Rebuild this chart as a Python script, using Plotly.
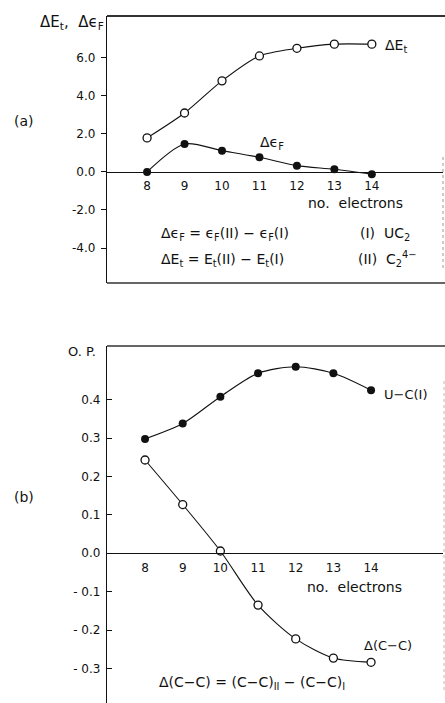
import plotly.graph_objects as go

W, H = 445, 703

# ---- data ----
electrons = [8, 9, 10, 11, 12, 13, 14]
delta_Et = [1.79, 3.10, 4.79, 6.10, 6.50, 6.72, 6.72]
delta_eF = [0.0, 1.47, 1.12, 0.77, 0.33, 0.14, -0.12]
op_UC = [0.298, 0.338, 0.408, 0.469, 0.486, 0.469, 0.425]
op_dCC = [0.243, 0.127, 0.006, -0.135, -0.223, -0.273, -0.284]

x_ticks = [8, 9, 10, 11, 12, 13, 14]
x_tick_text = ["8", "9", "10", "11", "12", "13", "14"]
ya_ticks = [-4, -2, 0, 2, 4, 6]
ya_tick_text = ["-4.0", "-2.0", "0.0", "2.0", "4.0", "6.0"]
yb_ticks = [-0.3, -0.2, -0.1, 0.0, 0.1, 0.2, 0.3, 0.4]
yb_tick_text = ["- 0.3", "- 0.2", "- 0.1", "0.0", "0.1", "0.2", "0.3", "0.4"]

# ---- layout geometry ----
def px(x):
    return x / W

def py(y):
    return 1 - y / H

XDOM = [px(107), px(443)]
YA_DOM = [py(283), py(16)]
YB_DOM = [0.0, py(346)]
XA_RANGE = [6.93, 15.90]
XB_RANGE = [6.99, 15.91]
YA_RANGE = [-5.84, 8.2]
YB_RANGE = [-0.39, 0.54]

def zero_pos(dom, rng):
    f = (0 - rng[0]) / (rng[1] - rng[0])
    return dom[0] + f * (dom[1] - dom[0])

FAMILY = "DejaVu Sans, Liberation Sans, sans-serif"
FONT = dict(family=FAMILY, size=12, color="#111")
LINE = "#111"

fig = go.Figure()

open_marker = dict(symbol="circle", size=8, color="white", line=dict(width=1.3, color=LINE))
filled_marker = dict(symbol="circle", size=8, color=LINE)
curve = dict(color=LINE, width=1.1, shape="spline", smoothing=0.8)

fig.add_trace(go.Scatter(x=electrons, y=delta_Et, mode="lines+markers", line=curve,
                         marker=open_marker, xaxis="x", yaxis="y", showlegend=False))
fig.add_trace(go.Scatter(x=electrons, y=delta_eF, mode="lines+markers", line=curve,
                         marker=filled_marker, xaxis="x", yaxis="y", showlegend=False))
fig.add_trace(go.Scatter(x=electrons, y=op_UC, mode="lines+markers", line=curve,
                         marker=filled_marker, xaxis="x2", yaxis="y2", showlegend=False))
fig.add_trace(go.Scatter(x=electrons, y=op_dCC, mode="lines+markers", line=curve,
                         marker=open_marker, xaxis="x2", yaxis="y2", showlegend=False))

common_x = dict(tickmode="array", tickvals=x_ticks, ticktext=x_tick_text, ticks="",
                showgrid=False, zeroline=False, showline=True, linecolor=LINE, linewidth=1.3,
                tickfont=FONT, anchor="free", ticklabelstandoff=3)
common_y = dict(tickmode="array", ticklen=5, tickcolor=LINE, tickwidth=1.2,
                showgrid=False, zeroline=False, showline=True, linecolor=LINE, linewidth=1.3,
                tickfont=FONT, ticklabelstandoff=3)

fig.update_layout(
    width=W, height=H, margin=dict(l=0, r=0, t=0, b=0),
    paper_bgcolor="white", plot_bgcolor="white", font=FONT,
    xaxis=dict(domain=XDOM, range=XA_RANGE, position=zero_pos(YA_DOM, YA_RANGE), **common_x),
    yaxis=dict(domain=YA_DOM, range=YA_RANGE, anchor="x", ticks="outside",
               tickvals=ya_ticks, ticktext=ya_tick_text, **common_y),
    xaxis2=dict(domain=XDOM, range=XB_RANGE, position=zero_pos(YB_DOM, YB_RANGE), **common_x),
    yaxis2=dict(domain=YB_DOM, range=YB_RANGE, anchor="x2", ticks="inside",
                tickvals=yb_ticks, ticktext=yb_tick_text, **common_y),
)

# frame lines
shapes = [
    dict(type="line", xref="paper", yref="paper", x0=XDOM[0], x1=1, y0=YA_DOM[1], y1=YA_DOM[1],
         line=dict(color="#333", width=2)),
    dict(type="line", xref="paper", yref="paper", x0=XDOM[0], x1=1, y0=YA_DOM[0], y1=YA_DOM[0],
         line=dict(color="#333", width=1.5)),
    dict(type="line", xref="paper", yref="paper", x0=XDOM[1], x1=XDOM[1], y0=py(268), y1=py(155),
         line=dict(color="#999", width=1, dash="dot")),
    dict(type="line", xref="paper", yref="paper", x0=XDOM[0], x1=1, y0=YB_DOM[1], y1=YB_DOM[1],
         line=dict(color="#333", width=1.5)),
    dict(type="line", xref="paper", yref="paper", x0=XDOM[1] + px(1), x1=XDOM[1] + px(1), y0=py(690), y1=py(380),
         line=dict(color="#bbb", width=1, dash="dot")),
]
fig.update_layout(shapes=shapes)

def note(text, x, y, xanchor="left", size=13):
    fig.add_annotation(text=text, x=px(x), y=py(y), xref="paper", yref="paper",
                       xanchor=xanchor, yanchor="middle", showarrow=False,
                       font=dict(family=FAMILY, size=size, color="#111"))

note("ΔE<sub>t</sub>,  Δϵ<sub>F</sub>", 106, 22, xanchor="right", size=15)
note("(a)", 12, 121, size=14)
note("(b)", 12, 497, size=14)
note("O. P.", 66, 351, size=13)
note("ΔE<sub>t</sub>", 383, 46, size=14)
note("Δϵ<sub>F</sub>", 258, 143, size=14)
note("no.  electrons", 306, 203, size=14)
note("Δϵ<sub>F</sub> = ϵ<sub>F</sub>(II) − ϵ<sub>F</sub>(I)", 159, 234, size=14)
note("ΔE<sub>t</sub> = E<sub>t</sub>(II) − E<sub>t</sub>(I)", 159, 260, size=14)
note("(I)  UC<sub>2</sub>", 358, 234, size=14)
note("(II)  C<sub>2</sub><sup>4−</sup>", 356, 259, size=14)
note("U−C(I)", 382, 395, size=13)
note("no.  electrons", 305, 587, size=14)
note("Δ(C−C)", 362, 645, size=13)
note("Δ(C−C) = (C−C)<sub>II</sub> − (C−C)<sub>I</sub>", 157, 683, size=14)

fig.write_html("out.html", config={"displayModeBar": False},
               post_script="document.body.style.margin='0';")
